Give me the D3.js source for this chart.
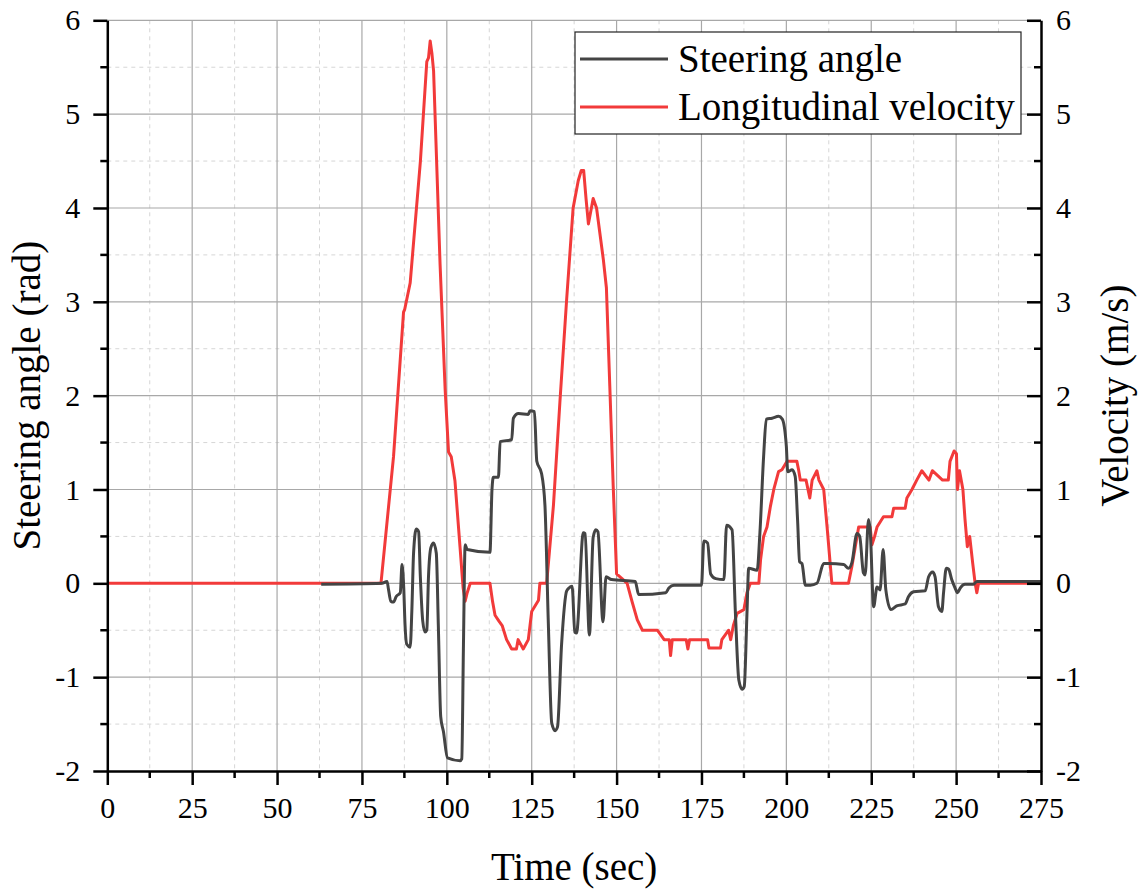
<!DOCTYPE html>
<html>
<head>
<meta charset="utf-8">
<script src="https://cdn.jsdelivr.net/npm/d3@7/dist/d3.min.js"></script>
<style>
  html, body { margin: 0; padding: 0; background: #fff; }
  svg { display: block; font-family: "Liberation Serif", "Times New Roman", serif; }
  svg text { font-family: "Liberation Serif", "Times New Roman", serif !important; }
</style>
</head>
<body>
<svg id="chart" width="1146" height="891"></svg>
<script>
// ---- Data ----
const xTicks = [0, 25, 50, 75, 100, 125, 150, 175, 200, 225, 250, 275];
const yTicks = [-2, -1, 0, 1, 2, 3, 4, 5, 6];
const seriesNames = ["Steering angle", "Longitudinal velocity"];

const steerTime = [63, 80.9, 82.4, 82.8, 83.5, 84.3, 85.1, 86.3, 86.8, 87.3, 87.7, 88.2, 89.2, 89.7, 90.2, 91.0, 91.7, 92.2, 92.9, 93.6, 94.1, 94.6, 95.3, 96.1, 96.9, 97.5, 98.2, 99.0, 100.2, 103.9, 104.4, 104.9, 105.4, 106.0, 112.7, 113.3, 113.7, 115.2, 115.7, 119.1, 119.6, 121.1, 124.0, 124.5, 125.8, 126.5, 127.9, 128.9, 129.9, 130.9, 131.9, 132.6, 133.8, 135.3, 136.3, 136.9, 137.7, 138.2, 140.2, 140.7, 142.0, 143.1, 143.9, 144.5, 146.0, 146.9, 148.5, 155.5, 156.5, 164.5, 165.4, 166.9, 175.0, 175.7, 176.8, 177.7, 179.2, 181.6, 182.4, 184.0, 185.0, 186.0, 187.0, 187.6, 188.4, 188.9, 191.4, 192.2, 193.3, 194.1, 195.8, 197.7, 198.8, 200.0, 200.4, 201.7, 202.6, 203.3, 203.9, 204.6, 205.6, 207.1, 209.0, 211.0, 212.4, 216.9, 218.3, 219.3, 220.8, 221.6, 222.7, 223.2, 224.2, 224.7, 225.7, 226.7, 227.6, 228.5, 229.3, 230.8, 232.5, 235.0, 236.0, 237.5, 240.9, 241.9, 243.1, 243.8, 244.8, 245.8, 246.3, 247.1, 247.8, 248.7, 249.7, 250.4, 251.2, 252.6, 255.1, 256.1, 275];
const steerAngle = [-0.01, 0, 0.02, -0.06, -0.19, -0.2, -0.14, -0.1, 0.2, -0.04, -0.45, -0.65, -0.68, -0.29, 0.32, 0.58, 0.55, 0.07, -0.4, -0.52, -0.5, 0.07, 0.38, 0.43, 0.32, -0.45, -1.42, -1.58, -1.86, -1.89, -1.87, -0.65, 0.41, 0.36, 0.33, 1.0, 1.13, 1.13, 1.51, 1.53, 1.76, 1.81, 1.80, 1.84, 1.83, 1.30, 1.17, 0.83, -0.43, -1.49, -1.57, -1.53, -0.65, -0.08, -0.04, -0.03, -0.52, -0.53, 0.54, 0.53, -0.55, 0.49, 0.57, 0.55, -0.41, 0.07, 0.04, 0.02, -0.12, -0.1, -0.05, -0.02, -0.02, 0.45, 0.43, 0.1, 0.05, 0.04, 0.62, 0.57, -0.32, -1.03, -1.13, -1.1, -0.32, 0.16, 0.14, 0.53, 1.35, 1.75, 1.76, 1.78, 1.75, 1.46, 1.19, 1.21, 1.14, 0.68, 0.23, 0.21, -0.02, -0.02, 0, 0.21, 0.21, 0.2, 0.16, 0.22, 0.53, 0.5, 0.11, 0.09, 0.68, 0.56, -0.25, -0.04, -0.07, 0.36, -0.07, -0.28, -0.24, -0.22, -0.14, -0.09, -0.08, 0.07, 0.12, 0.07, -0.25, -0.3, -0.1, 0.16, 0.15, 0.04, -0.05, -0.1, -0.05, -0.01, -0.01, 0.02, 0.02];

const velTime = [0, 80.6, 84.3, 87.25, 87.6, 89.2, 92.2, 94.1, 94.6, 95.1, 95.6, 96.1, 98.0, 99.5, 100.5, 101.3, 102.4, 103.9, 104.8, 105.4, 106.0, 106.9, 112.7, 113.5, 114.2, 115.3, 116.3, 117.6, 119.1, 120.5, 121.0, 122.5, 124.0, 125.0, 127.0, 127.4, 129.4, 131.4, 133.3, 135.3, 137.2, 138.7, 139.6, 140.3, 141.0, 141.7, 143.1, 144.1, 146.1, 147.0, 148.0, 149.0, 150.0, 151.6, 153.1, 154.6, 156.1, 157.6, 162.0, 164.0, 165.5, 165.9, 166.4, 170.5, 171.0, 171.5, 176.8, 177.2, 180.6, 181.0, 183.0, 183.6, 184.4, 185.5, 187.5, 188.4, 189.4, 191.9, 192.4, 193.3, 194.3, 195.3, 196.3, 197.7, 198.7, 200.2, 203.1, 203.6, 204.1, 205.8, 206.9, 207.6, 209.0, 209.6, 211.0, 212.0, 213.4, 218.3, 219.3, 220.3, 221.3, 224.7, 225.2, 226.0, 226.7, 228.6, 231.1, 231.6, 235.0, 235.5, 237.0, 238.4, 239.9, 242.0, 243.0, 246.0, 247.7, 248.2, 249.4, 250.1, 250.4, 251.0, 252.0, 252.6, 253.3, 254.0, 254.9, 255.6, 256.1, 256.6, 275];
const velValue = [0, 0, 1.35, 2.89, 2.92, 3.2, 4.49, 5.56, 5.6, 5.78, 5.65, 5.46, 3.41, 2.07, 1.40, 1.35, 1.09, 0.38, -0.05, -0.19, -0.1, 0, 0, -0.2, -0.34, -0.4, -0.45, -0.6, -0.7, -0.7, -0.6, -0.7, -0.6, -0.3, -0.18, 0, 0, 0.83, 1.93, 3.03, 4.0, 4.29, 4.40, 4.40, 4.1, 3.83, 4.10, 4.0, 3.45, 3.15, 2.10, 1.04, 0.1, 0.05, 0, -0.2, -0.39, -0.5, -0.5, -0.6, -0.6, -0.77, -0.6, -0.6, -0.7, -0.6, -0.6, -0.69, -0.69, -0.6, -0.5, -0.6, -0.45, -0.32, -0.28, -0.1, 0, 0, 0.25, 0.5, 0.6, 0.82, 1.0, 1.19, 1.21, 1.30, 1.30, 1.21, 1.1, 1.1, 0.91, 1.1, 1.2, 1.1, 1.0, 0.6, 0, 0, 0.18, 0.39, 0.6, 0.6, 0.41, 0.5, 0.6, 0.71, 0.71, 0.8, 0.8, 0.91, 1.0, 1.1, 1.2, 1.1, 1.2, 1.1, 1.1, 1.3, 1.41, 1.38, 1.0, 1.2, 1.0, 0.69, 0.39, 0.5, 0.21, 0, -0.1, 0, 0];

// ---- Layout ----
const W = 1146, H = 891;
const mLeft = 107.3, mRight = 1041, mTop = 20.3, mBottom = 771;
const font = '"Liberation Serif", "Times New Roman", serif';
const svg = d3.select("#chart");
svg.append("rect").attr("width", W).attr("height", H).attr("fill", "#fff");

const x = d3.scaleLinear().domain([0, 275]).range([mLeft, mRight]);
const y = d3.scaleLinear().domain([-2, 6]).range([mBottom, mTop]);
const y2 = d3.scaleLinear().domain([-2, 6]).range([mBottom, mTop]);

const minorX = d3.range(12.5, 275, 25);
const minorY = d3.range(-1.5, 6, 1);

// ---- Grid ----
const grid = svg.append("g");
grid.selectAll(".gxm").data(minorX).join("line")
  .attr("x1", d => x(d)).attr("x2", d => x(d)).attr("y1", mTop).attr("y2", mBottom)
  .attr("stroke", "#d6d6d6").attr("stroke-width", 1).attr("stroke-dasharray", "4,4");
grid.selectAll(".gym").data(minorY).join("line")
  .attr("y1", d => y(d)).attr("y2", d => y(d)).attr("x1", mLeft).attr("x2", mRight)
  .attr("stroke", "#d6d6d6").attr("stroke-width", 1).attr("stroke-dasharray", "4,4");
grid.selectAll(".gx").data(xTicks.filter(d => d > 0 && d < 275)).join("line")
  .attr("x1", d => x(d)).attr("x2", d => x(d)).attr("y1", mTop).attr("y2", mBottom)
  .attr("stroke", "#a8a8a8").attr("stroke-width", 1.2);
grid.selectAll(".gy").data(yTicks.filter(d => d > -2)).join("line")
  .attr("y1", d => y(d)).attr("y2", d => y(d)).attr("x1", mLeft).attr("x2", mRight)
  .attr("stroke", "#a8a8a8").attr("stroke-width", 1.2);

// ---- Lines ----
const velData = velTime.map((t, i) => [t, velValue[i]]);
const steerData = steerTime.map((t, i) => [t, steerAngle[i]]);

svg.append("path").datum(velData)
  .attr("d", d3.line().x(d => x(d[0])).y(d => y2(d[1])))
  .attr("fill", "none").attr("stroke", "#f23a3a").attr("stroke-width", 3)
  .attr("stroke-linejoin", "round");
svg.append("path").datum(steerData)
  .attr("d", d3.line().curve(d3.curveMonotoneX).x(d => x(d[0])).y(d => y(d[1])))
  .attr("fill", "none").attr("stroke", "#444444").attr("stroke-width", 3)
  .attr("stroke-linejoin", "round");

// ---- Axes ----
function styleAxis(g) {
  g.attr("font-family", font).attr("font-size", 30);
  g.select(".domain").attr("stroke", "#000").attr("stroke-width", 2.5);
  g.selectAll(".tick line").attr("stroke", "#000").attr("stroke-width", 2.5);
  g.selectAll(".tick text").attr("fill", "#000")
    .style("font-family", font).style("font-size", "30px");
}

// minor ticks
const minorG = svg.append("g");
minorG.selectAll(".mxb").data(minorX).join("line")
  .attr("x1", d => x(d)).attr("x2", d => x(d)).attr("y1", mBottom).attr("y2", mBottom + 7)
  .attr("stroke", "#000").attr("stroke-width", 2.5);
minorG.selectAll(".myl").data(minorY).join("line")
  .attr("y1", d => y(d)).attr("y2", d => y(d)).attr("x1", mLeft).attr("x2", mLeft - 7)
  .attr("stroke", "#000").attr("stroke-width", 2.5);
minorG.selectAll(".myr").data(minorY).join("line")
  .attr("y1", d => y2(d)).attr("y2", d => y2(d)).attr("x1", mRight).attr("x2", mRight - 7)
  .attr("stroke", "#000").attr("stroke-width", 2.5);

const fmt = d => d < 0 ? "-" + Math.abs(d) : String(d);

const gx = svg.append("g").attr("transform", `translate(0,${mBottom})`)
  .call(d3.axisBottom(x).tickValues(xTicks).tickFormat(d3.format("d")).tickSize(14).tickSizeOuter(0).tickPadding(12));
styleAxis(gx);

const gy = svg.append("g").attr("transform", `translate(${mLeft},0)`)
  .call(d3.axisLeft(y).tickValues(yTicks).tickFormat(fmt).tickSize(14).tickSizeOuter(0).tickPadding(13));
styleAxis(gy);

const gy2 = svg.append("g").attr("transform", `translate(${mRight},0)`)
  .call(d3.axisRight(y2).tickValues(yTicks).tickFormat(fmt).tickSize(-14).tickSizeOuter(0).tickPadding(15));
styleAxis(gy2);

// ---- Titles ----
svg.append("text").attr("x", (mLeft + mRight) / 2).attr("y", 880)
  .attr("text-anchor", "middle").attr("font-size", 39).attr("font-family", font)
  .text("Time (sec)");
svg.append("text").attr("transform", `translate(40,${(mTop + mBottom) / 2}) rotate(-90)`)
  .attr("text-anchor", "middle").attr("font-size", 39).attr("font-family", font)
  .text("Steering angle (rad)");
svg.append("text").attr("transform", `translate(1128,${(mTop + mBottom) / 2}) rotate(-90)`)
  .attr("text-anchor", "middle").attr("font-size", 39).attr("font-family", font)
  .text("Velocity (m/s)");

// ---- Legend ----
const lg = svg.append("g");
lg.append("rect").attr("x", 575).attr("y", 32).attr("width", 446).attr("height", 102)
  .attr("fill", "#fff").attr("stroke", "#222").attr("stroke-width", 1.2);
const legendColors = ["#444444", "#f23a3a"];
seriesNames.forEach((name, i) => {
  const ly = 59 + i * 48;
  lg.append("line").attr("x1", 580).attr("x2", 668).attr("y1", ly).attr("y2", ly)
    .attr("stroke", legendColors[i]).attr("stroke-width", 3);
  lg.append("text").attr("x", 678).attr("y", ly + 13).attr("font-size", 39)
    .attr("font-family", font).text(name);
});
</script>
</body>
</html>
